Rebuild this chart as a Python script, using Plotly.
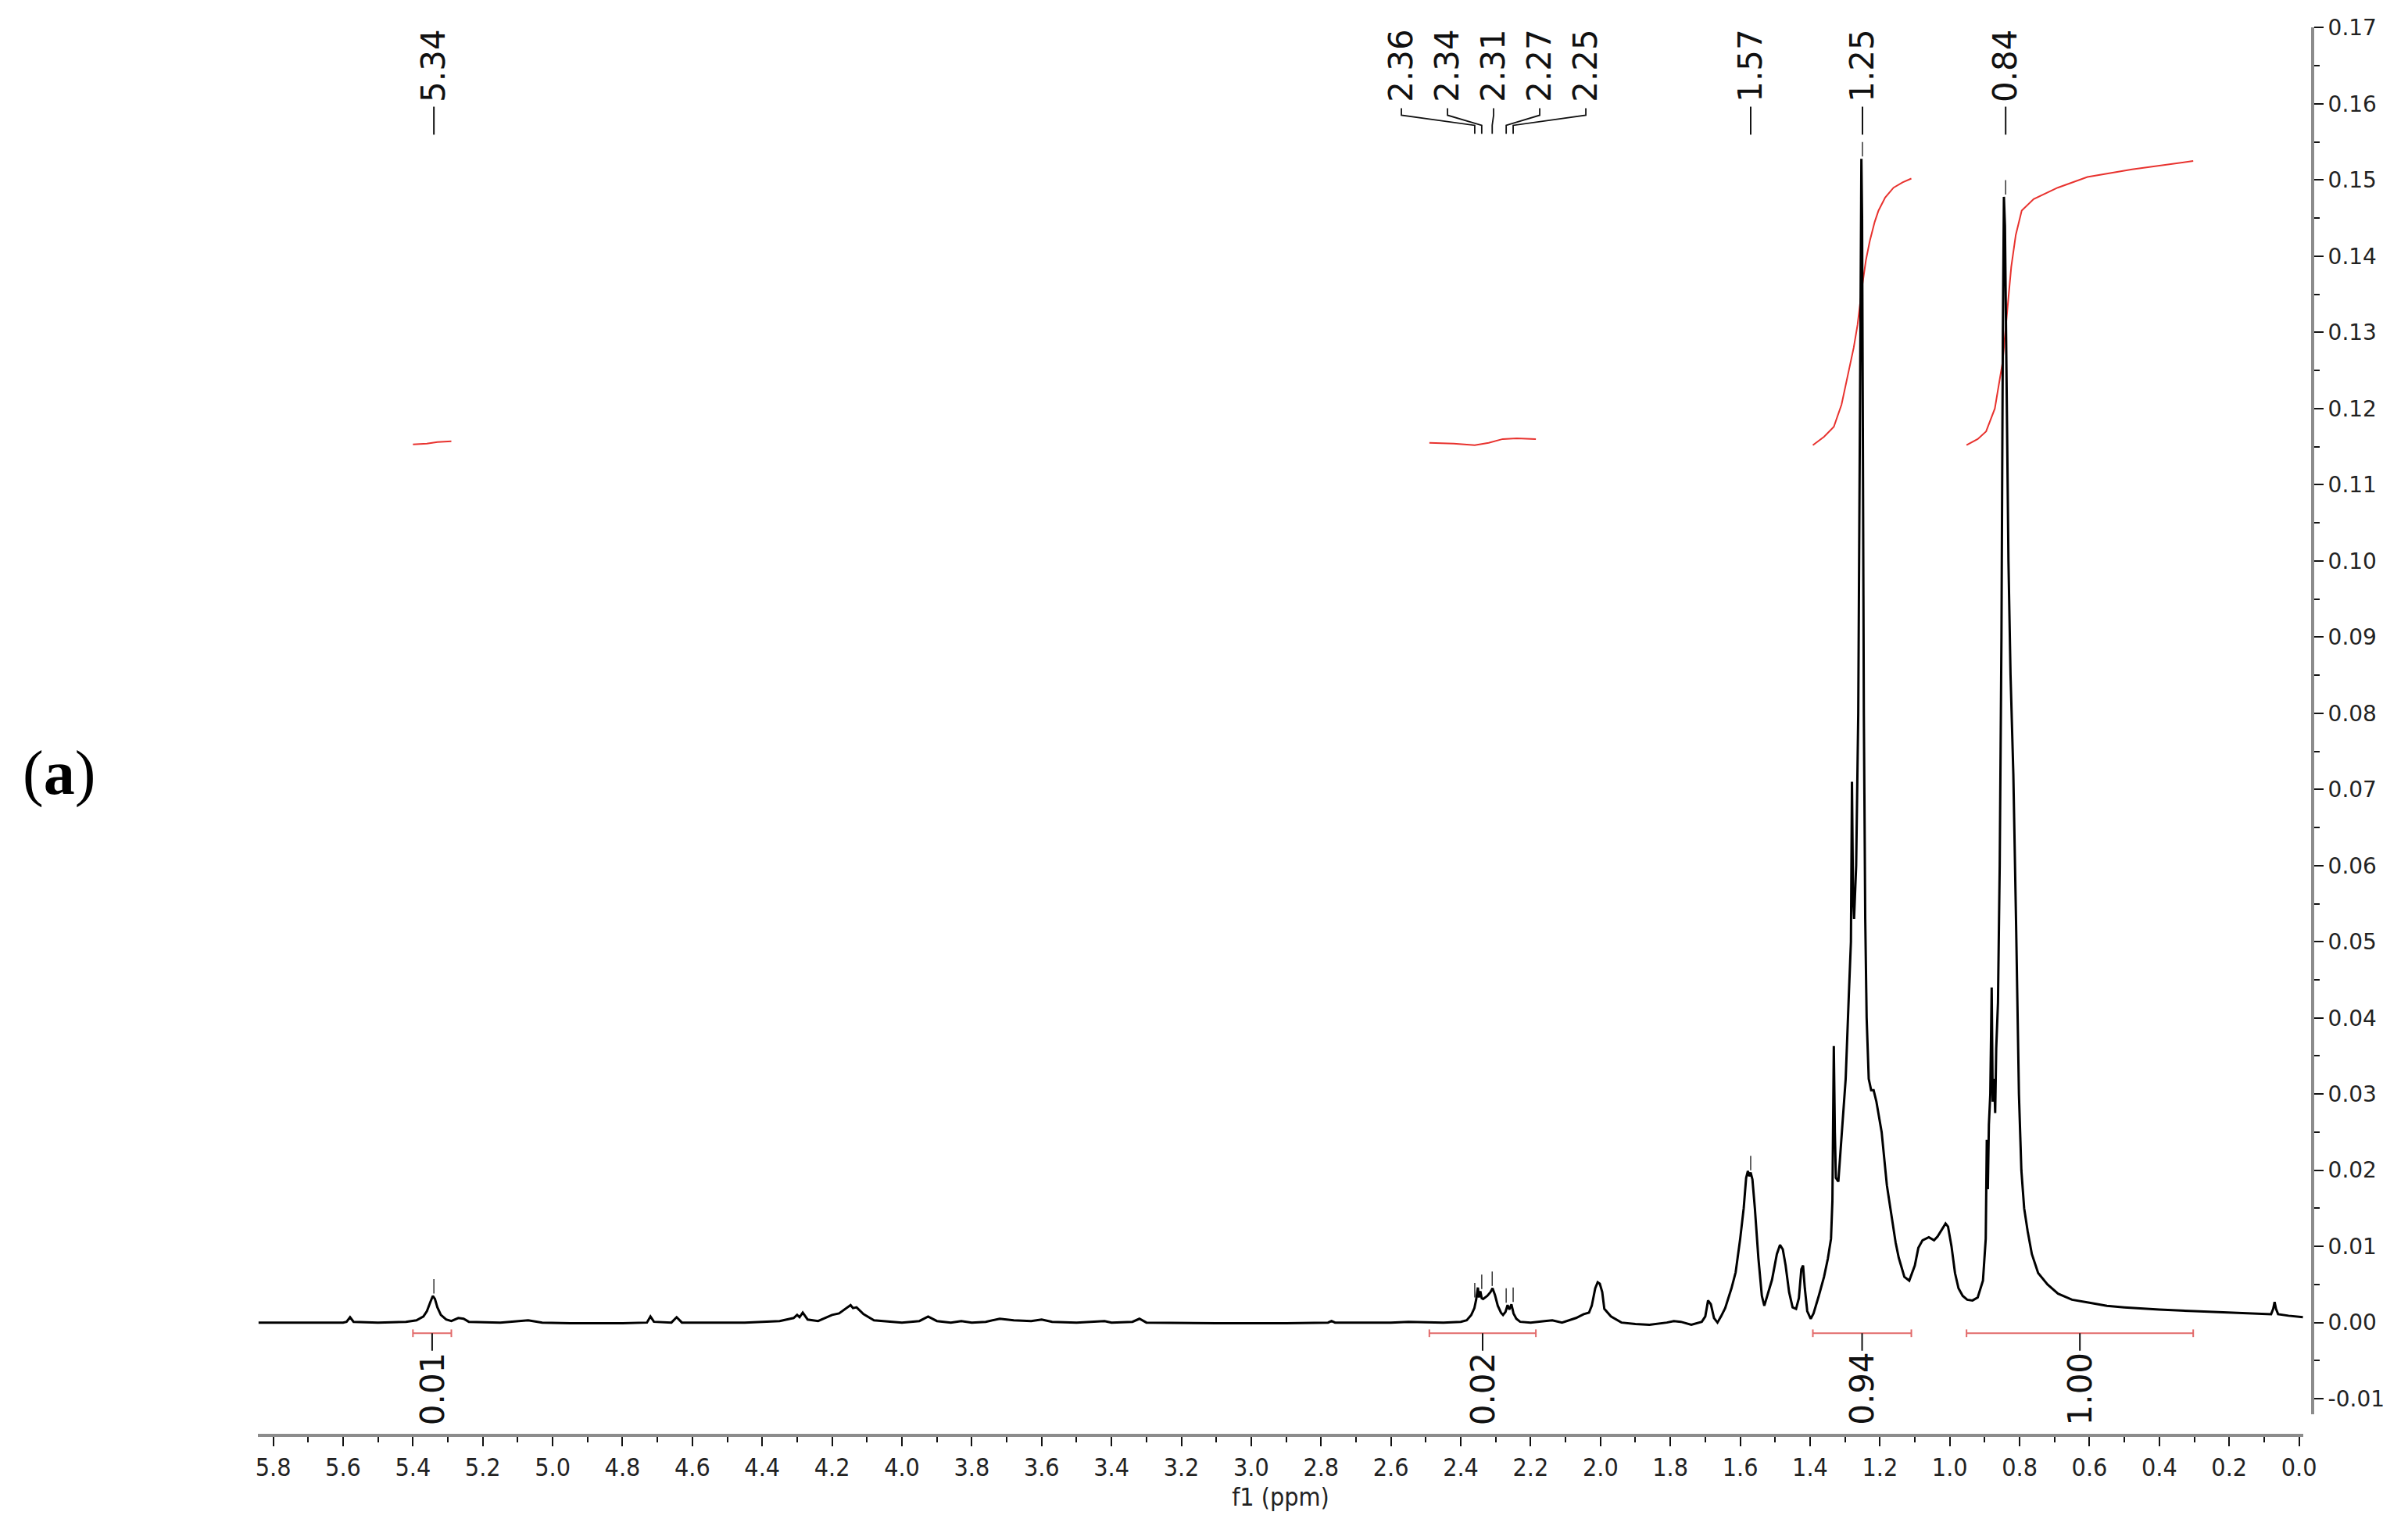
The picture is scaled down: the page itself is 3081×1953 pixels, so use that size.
import numpy as np
import plotly.graph_objects as go

# ---------------- data ----------------
spec_ppm = [5.842, 5.70, 5.60, 5.59, 5.58, 5.57, 5.50, 5.42, 5.39, 5.37, 5.36, 5.35, 5.343, 5.337, 5.33, 5.32,
            5.305, 5.29, 5.27, 5.255, 5.24, 5.15, 5.07, 5.03, 4.95, 4.80, 4.73, 4.72, 4.71, 4.66, 4.645, 4.63,
            4.45, 4.35, 4.31, 4.30, 4.293, 4.284, 4.27, 4.24, 4.20, 4.18, 4.16, 4.147, 4.14, 4.13, 4.11, 4.08,
            4.00, 3.95, 3.925, 3.90, 3.86, 3.83, 3.80, 3.76, 3.72, 3.68, 3.63, 3.60, 3.57, 3.50, 3.42, 3.40,
            3.34, 3.32, 3.30, 3.10, 2.90, 2.78, 2.77, 2.76, 2.60, 2.55, 2.45, 2.40, 2.383, 2.37, 2.361, 2.356,
            2.351, 2.348, 2.344, 2.34, 2.336, 2.324, 2.315, 2.309, 2.302, 2.294, 2.285, 2.279, 2.272, 2.266,
            2.261, 2.255, 2.249, 2.241, 2.23, 2.20, 2.16, 2.138, 2.11, 2.07, 2.048, 2.033, 2.025, 2.015, 2.008,
            2.002, 1.995, 1.989, 1.97, 1.94, 1.90, 1.86, 1.81, 1.79, 1.77, 1.74, 1.71, 1.70, 1.692, 1.684,
            1.675, 1.665, 1.655, 1.643, 1.625, 1.613, 1.60, 1.59, 1.583, 1.578, 1.574, 1.570, 1.565, 1.558,
            1.548, 1.538, 1.531, 1.52, 1.509, 1.495, 1.486, 1.478, 1.47, 1.46, 1.45, 1.44, 1.432, 1.425, 1.42,
            1.415, 1.408, 1.398, 1.39, 1.375, 1.36, 1.349, 1.340, 1.336, 1.332, 1.329, 1.326, 1.319, 1.315,
            1.305, 1.298, 1.289, 1.283, 1.280, 1.277, 1.274, 1.268, 1.262, 1.258, 1.255, 1.253, 1.251, 1.249,
            1.246, 1.242, 1.238, 1.232, 1.225, 1.218, 1.210, 1.195, 1.18, 1.17, 1.155, 1.146, 1.13, 1.116,
            1.10, 1.09, 1.078, 1.06, 1.045, 1.035, 1.025, 1.012, 1.005, 0.995, 0.985, 0.975, 0.963, 0.95,
            0.935, 0.92, 0.905, 0.897, 0.894, 0.891, 0.888, 0.884, 0.880, 0.877, 0.873, 0.870, 0.867, 0.862,
            0.857, 0.852, 0.848, 0.845, 0.842, 0.838, 0.832, 0.826, 0.818, 0.81, 0.802, 0.795, 0.787, 0.777,
            0.765, 0.747, 0.72, 0.69, 0.65, 0.60, 0.55, 0.50, 0.40, 0.30, 0.20, 0.10, 0.08, 0.074, 0.07,
            0.066, 0.06, 0.03, 0.00, -0.011]
spec_int = [0.0000, 0.0000, 0.0000, 0.0001, 0.0007, 0.0001, 0.0000, 0.0001, 0.0003, 0.0008, 0.0015, 0.0027,
            0.0035, 0.0031, 0.0020, 0.0010, 0.0004, 0.0002, 0.0006, 0.0005, 0.0001, 0.0000, 0.0003, 0.0000,
            -0.0001, -0.0001, 0.0000, 0.0008, 0.0001, 0.0000, 0.0007, 0.0000, 0.0000, 0.0002, 0.0006, 0.0010,
            0.0007, 0.0013, 0.0004, 0.0002, 0.0010, 0.0012, 0.0019, 0.0023, 0.0019, 0.0020, 0.0011, 0.0003,
            0.0000, 0.0002, 0.0008, 0.0002, 0.0000, 0.0002, 0.0000, 0.0001, 0.0005, 0.0003, 0.0002, 0.0004,
            0.0001, 0.0000, 0.0002, 0.0000, 0.0001, 0.0005, 0.0000, -0.0001, -0.0001, 0.0000, 0.0002, 0.0000,
            0.0000, 0.0001, 0.0000, 0.0001, 0.0003, 0.0010, 0.0019, 0.0030, 0.0046, 0.0033, 0.0041, 0.0032,
            0.0031, 0.0035, 0.0040, 0.0045, 0.0036, 0.0022, 0.0013, 0.0010, 0.0014, 0.0023, 0.0017, 0.0024,
            0.0012, 0.0005, 0.0001, 0.0000, 0.0002, 0.0003, 0.0000, 0.0006, 0.0011, 0.0013, 0.0022, 0.0045,
            0.0053, 0.0051, 0.0040, 0.0018, 0.0008, 0.0000, -0.0002, -0.0003, 0.0000, 0.0002, 0.0001, -0.0003,
            0.0001, 0.0008, 0.0029, 0.0024, 0.0006, 0.0000, 0.0008, 0.0019, 0.0045, 0.0066, 0.0110, 0.0150,
            0.0190, 0.0199, 0.0192, 0.0197, 0.0188, 0.0150, 0.0085, 0.0035, 0.0022, 0.0038, 0.0056, 0.0090,
            0.0102, 0.0096, 0.0075, 0.0040, 0.0020, 0.0018, 0.0032, 0.0070, 0.0075, 0.0045, 0.0015, 0.0005,
            0.0012, 0.0035, 0.0060, 0.0084, 0.0110, 0.0160, 0.0363, 0.0250, 0.0190, 0.0185, 0.0210, 0.0280,
            0.0320, 0.0430, 0.0500, 0.0710, 0.0560, 0.0530, 0.0600, 0.0800, 0.1150, 0.1450, 0.1528, 0.1450,
            0.1150, 0.0800, 0.0530, 0.0400, 0.0320, 0.0305, 0.0305, 0.0290, 0.0250, 0.0180, 0.0150, 0.0105,
            0.0085, 0.0060, 0.0055, 0.0075, 0.0098, 0.0108, 0.0112, 0.0108, 0.0113, 0.0120, 0.0130, 0.0126,
            0.0100, 0.0065, 0.0045, 0.0035, 0.0030, 0.0029, 0.0033, 0.0055, 0.0110, 0.0240, 0.0175, 0.0260,
            0.0300, 0.0440, 0.0290, 0.0320, 0.0275, 0.0360, 0.0420, 0.0600, 0.0900, 0.1300, 0.1478, 0.1440,
            0.1250, 0.1000, 0.0850, 0.0720, 0.0520, 0.0300, 0.0200, 0.0150, 0.0120, 0.0090, 0.0065, 0.0050,
            0.0038, 0.0030, 0.0026, 0.0022, 0.0020, 0.0017, 0.0015, 0.0013, 0.0011, 0.0011, 0.0018, 0.0027,
            0.0018, 0.0011, 0.0009, 0.0008, 0.0007]

# integral curves (red)
integ1_ppm = [5.40, 5.36, 5.33, 5.29]
integ1_val = [0.1153, 0.1154, 0.1156, 0.1157]
integ2_ppm = [2.49, 2.42, 2.36, 2.32, 2.28, 2.24, 2.185]
integ2_val = [0.1155, 0.1154, 0.1152, 0.1155, 0.1160, 0.1161, 0.1160]
integ3_ppm = [1.392, 1.36, 1.332, 1.31, 1.289, 1.275, 1.264, 1.251, 1.24, 1.229, 1.215, 1.204, 1.185, 1.161, 1.135, 1.11]
integ3_val = [0.1152, 0.1163, 0.1176, 0.1205, 0.1250, 0.1280, 0.1310, 0.1360, 0.1395, 0.1420, 0.1445, 0.1460,
              0.1477, 0.1490, 0.1497, 0.1502]
integ4_ppm = [0.952, 0.92, 0.896, 0.871, 0.849, 0.837, 0.824, 0.811, 0.794, 0.76, 0.691, 0.606, 0.478, 0.303]
integ4_val = [0.1152, 0.1160, 0.1170, 0.1200, 0.1260, 0.1320, 0.1386, 0.1428, 0.1460, 0.1475, 0.1490, 0.1504,
              0.1514, 0.1525]

# integration regions and values
integ_from = [5.40, 2.49, 1.392, 0.952]
integ_to = [5.29, 2.185, 1.11, 0.303]
integ_labels = ["0.01", "0.02", "0.94", "1.00"]

# peak picking
single_peaks = [5.34, 1.57, 1.25, 0.84]
single_labels = ["5.34", "1.57", "1.25", "0.84"]
group_peaks = [2.36, 2.34, 2.31, 2.27, 2.25]
group_labels = ["2.36", "2.34", "2.31", "2.27", "2.25"]

ytick_vals = [-0.01, 0.00, 0.01, 0.02, 0.03, 0.04, 0.05, 0.06, 0.07, 0.08, 0.09,
              0.10, 0.11, 0.12, 0.13, 0.14, 0.15, 0.16, 0.17]
ytick_labels = ["-0.01", "0.00", "0.01", "0.02", "0.03", "0.04", "0.05", "0.06", "0.07", "0.08", "0.09",
                "0.10", "0.11", "0.12", "0.13", "0.14", "0.15", "0.16", "0.17"]

# ---------------- layout geometry ----------------
W, H = 3081, 1953
PL, PR, PT, PB = 330, 2959, 20, 1837    # plot area in pixels
X_END = 2947                            # right end of x axis
PX_PER_PPM, PX_ZERO = 446.9, 2941.6
PY_PER_UNIT, PY_ZERO = 9791.0, 1692.0
Y_TOP_PX, Y_BOT_PX = 27, 1810


def pxx(p):
    return (p - PL) / (PR - PL)


def pxy(p):
    return (PB - p) / (PB - PT)


x_range = [(PX_ZERO - PL) / PX_PER_PPM, (PX_ZERO - X_END) / PX_PER_PPM]
y_range = [(PY_ZERO - Y_BOT_PX) / PY_PER_UNIT, (PY_ZERO - Y_TOP_PX) / PY_PER_UNIT]

LABEL_FONT = dict(family="DejaVu Sans, Verdana, sans-serif", size=42, color="#111111")
AX_FONT = dict(family="Liberation Sans Narrow, DejaVu Sans Condensed, Arial Narrow, sans-serif", size=32,
               color="#222222")
RED = "#e8322e"
BRACKET = "#e26a6a"

fig = go.Figure()

for xs, ys in [(integ1_ppm, integ1_val), (integ2_ppm, integ2_val), (integ3_ppm, integ3_val),
               (integ4_ppm, integ4_val)]:
    fig.add_trace(go.Scatter(x=xs, y=ys, mode="lines", line=dict(color=RED, width=2), hoverinfo="skip"))

fig.add_trace(go.Scatter(x=spec_ppm, y=spec_int, mode="lines", line=dict(color="black", width=3)))

shapes = []
annotations = []

# peak tip lookup from the spectrum
asc_x = np.array(spec_ppm[::-1])
asc_y = np.array(spec_int[::-1])


def tip(p):
    mask = (asc_x > p - 0.008) & (asc_x < p + 0.008)
    return float(asc_y[mask].max()) if mask.any() else float(np.interp(p, asc_x, asc_y))


LABEL_CY = 76

# single peak labels
for p, lab in zip(single_peaks, single_labels):
    annotations.append(dict(x=p, xref="x", y=pxy(LABEL_CY), yref="paper", text=lab, textangle=-90,
                            showarrow=False, xanchor="center", yanchor="middle", font=LABEL_FONT))
    shapes.append(dict(type="line", xref="x", yref="paper", x0=p, x1=p, y0=pxy(165), y1=pxy(129),
                       line=dict(color="#111111", width=2)))
    t = tip(p)
    shapes.append(dict(type="line", xref="x", yref="y", x0=p, x1=p, y0=t + 0.0003, y1=t + 0.0022,
                       line=dict(color="#333333", width=1.5)))

# grouped peak labels (fanned out)
n = len(group_peaks)
center_px = PX_ZERO - np.mean(group_peaks) * PX_PER_PPM
spacing_px = 59
for i, (p, lab) in enumerate(zip(group_peaks, group_labels)):
    lx_px = center_px + (i - (n - 1) / 2) * spacing_px
    lx = (PX_ZERO - lx_px) / PX_PER_PPM
    annotations.append(dict(x=lx, xref="x", y=pxy(LABEL_CY), yref="paper", text=lab, textangle=-90,
                            showarrow=False, xanchor="center", yanchor="middle", font=LABEL_FONT))
    path = (f"M {lx},{pxy(131)} L {lx},{pxy(140)} L {p},{pxy(153)} L {p},{pxy(164)}")
    shapes.append(dict(type="path", xref="x", yref="paper", path=path,
                       line=dict(color="#111111", width=1.8)))
    t = tip(p)
    shapes.append(dict(type="line", xref="x", yref="y", x0=p, x1=p, y0=t + 0.0003, y1=t + 0.0022,
                       line=dict(color="#333333", width=1.5)))

# integration brackets and values
BR_Y = -0.0014
for a, b, lab in zip(integ_from, integ_to, integ_labels):
    mid = (a + b) / 2
    shapes.append(dict(type="line", xref="x", yref="y", x0=a, x1=b, y0=BR_Y, y1=BR_Y,
                       line=dict(color=BRACKET, width=2)))
    for e in (a, b):
        shapes.append(dict(type="line", xref="x", yref="y", x0=e, x1=e, y0=BR_Y + 0.0005, y1=BR_Y - 0.0005,
                           line=dict(color=BRACKET, width=2)))
    shapes.append(dict(type="line", xref="x", yref="y", x0=mid, x1=mid, y0=BR_Y, y1=-0.0037,
                       line=dict(color="#111111", width=2)))
    annotations.append(dict(x=mid, xref="x", y=pxy(1777), yref="paper", text=lab, textangle=-90,
                            showarrow=False, xanchor="center", yanchor="middle", font=LABEL_FONT))

# panel label
annotations.append(dict(x=pxx(75), xref="paper", y=pxy(986), yref="paper", text="(<b>a</b>)",
                        showarrow=False, xanchor="center", yanchor="middle",
                        font=dict(family="Liberation Serif, Times New Roman, serif", size=80, color="black")))

fig.update_layout(
    width=W, height=H,
    margin=dict(l=PL, r=W - PR, t=PT, b=H - PB),
    paper_bgcolor="white", plot_bgcolor="white",
    showlegend=False,
    shapes=shapes,
    annotations=annotations,
    xaxis=dict(domain=[0, pxx(X_END)], range=x_range, anchor="free", position=0,
               showline=True, linecolor="#8c8c8c", linewidth=4, showgrid=False, zeroline=False,
               ticks="outside", ticklen=12, tickwidth=2, tickcolor="#111111",
               tickmode="linear", tick0=0, dtick=0.2, tickformat=".1f", tickfont=AX_FONT,
               minor=dict(ticks="outside", ticklen=7, tickwidth=2, tickcolor="#111111",
                          tickmode="linear", tick0=0, dtick=0.1),
               title=dict(text="f1 (ppm)", font=AX_FONT, standoff=2)),
    yaxis=dict(domain=[pxy(Y_BOT_PX), pxy(Y_TOP_PX)], range=y_range, anchor="free", position=1,
               side="right", showline=True, linecolor="#8c8c8c", linewidth=4, showgrid=False,
               zeroline=False, ticks="outside", ticklen=12, tickwidth=2, tickcolor="#111111",
               tickmode="array", tickvals=ytick_vals, ticktext=ytick_labels,
               tickfont=dict(family="DejaVu Sans, Verdana, sans-serif", size=28, color="#222222"),
               minor=dict(ticks="outside", ticklen=7, tickwidth=2, tickcolor="#111111",
                          tickmode="linear", tick0=0, dtick=0.005)),
)

fig.write_html("out.html", config={"displayModeBar": False},
               post_script="document.body.style.margin='0';document.body.style.overflow='hidden';")
